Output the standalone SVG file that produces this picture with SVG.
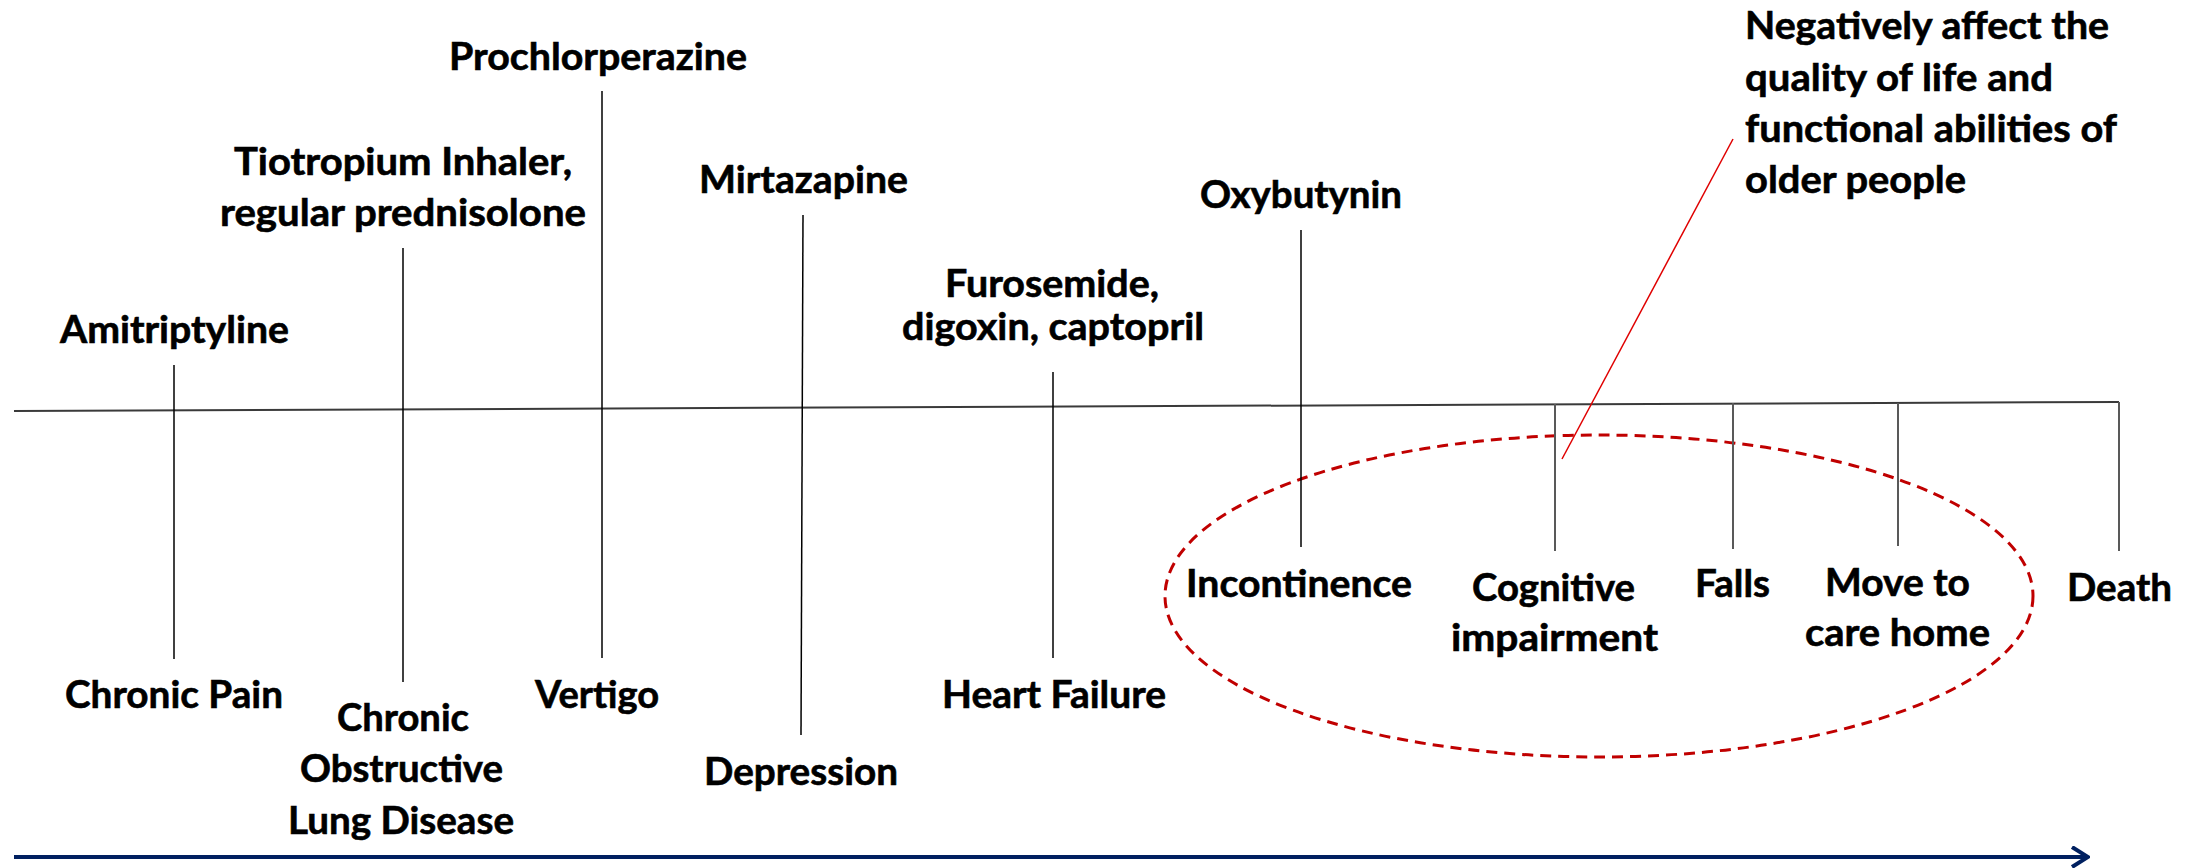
<svg xmlns="http://www.w3.org/2000/svg" width="2200" height="868" viewBox="0 0 2200 868">
  <style>
    text { font-family: Lato, "Open Sans", "Liberation Sans", sans-serif; font-weight: 700; font-size: 38px; fill: #000; stroke: #000; stroke-width: 0.6; }
    .tick { stroke: #000; stroke-width: 1.5; fill: none; }
    .tick-late { stroke: #595959; stroke-width: 2; fill: none; }
    .axis { stroke: #3a3a3a; stroke-width: 2; fill: none; }
    .time { stroke: #002060; stroke-width: 4; fill: none; }
    .halo { stroke: #c00000; stroke-width: 3; stroke-dasharray: 11 7; fill: none; }
    .callout { stroke: #e00000; stroke-width: 1.5; fill: none; }
  </style>
  <defs>
    <marker id="chevron" viewBox="0 0 20 22" refX="18" refY="11" markerWidth="20" markerHeight="22" markerUnits="userSpaceOnUse" orient="auto">
      <path d="M2 1 L18 11 L2 21" fill="none" stroke="#002060" stroke-width="4"/>
    </marker>
  </defs>

  <rect width="2200" height="868" fill="#fff"/>

  <!-- timeline -->
  <line class="axis" x1="14" y1="411" x2="2119" y2="402"/>
  <line class="time" x1="14" y1="857" x2="2088" y2="857" marker-end="url(#chevron)"/>

  <!-- grouping of late outcomes -->
  <ellipse class="halo" cx="1599" cy="596" rx="434" ry="161"/>

  <!-- medicines above the line, conditions below -->
  <g id="amitriptyline">
    <line class="tick" x1="174" y1="365" x2="174" y2="659"/>
    <text x="60" y="343" textLength="229" lengthAdjust="spacingAndGlyphs">Amitriptyline</text>
    <text x="65" y="708" textLength="218" lengthAdjust="spacingAndGlyphs">Chronic Pain</text>
  </g>

  <g id="tiotropium">
    <line class="tick" x1="403" y1="248" x2="403" y2="682"/>
    <text x="234" y="175" textLength="338" lengthAdjust="spacingAndGlyphs">Tiotropium Inhaler,</text>
    <text x="220" y="226" textLength="366" lengthAdjust="spacingAndGlyphs">regular prednisolone</text>
    <text x="337" y="731" textLength="132" lengthAdjust="spacingAndGlyphs">Chronic</text>
    <text x="300" y="782" textLength="203" lengthAdjust="spacingAndGlyphs">Obstructive</text>
    <text x="288" y="834" textLength="226" lengthAdjust="spacingAndGlyphs">Lung Disease</text>
  </g>

  <g id="prochlorperazine">
    <line class="tick" x1="602" y1="91" x2="602" y2="658"/>
    <text x="449" y="70" textLength="298" lengthAdjust="spacingAndGlyphs">Prochlorperazine</text>
    <text x="535" y="708" textLength="124" lengthAdjust="spacingAndGlyphs">Vertigo</text>
  </g>

  <g id="mirtazapine">
    <line class="tick" x1="803" y1="215" x2="801" y2="735"/>
    <text x="699" y="193" textLength="209" lengthAdjust="spacingAndGlyphs">Mirtazapine</text>
    <text x="704" y="785" textLength="194" lengthAdjust="spacingAndGlyphs">Depression</text>
  </g>

  <g id="furosemide">
    <line class="tick" x1="1053" y1="372" x2="1053" y2="658"/>
    <text x="945" y="297" textLength="214" lengthAdjust="spacingAndGlyphs">Furosemide,</text>
    <text x="902" y="340" textLength="302" lengthAdjust="spacingAndGlyphs">digoxin, captopril</text>
    <text x="942" y="708" textLength="224" lengthAdjust="spacingAndGlyphs">Heart Failure</text>
  </g>

  <g id="oxybutynin">
    <line class="tick" x1="1301" y1="230" x2="1301" y2="547"/>
    <text x="1200" y="208" textLength="202" lengthAdjust="spacingAndGlyphs">Oxybutynin</text>
    <text x="1186" y="597" textLength="226" lengthAdjust="spacingAndGlyphs">Incontinence</text>
  </g>

  <g id="cognitive">
    <line class="tick-late" x1="1555" y1="404" x2="1555" y2="551"/>
    <text x="1472" y="601" textLength="163" lengthAdjust="spacingAndGlyphs">Cognitive</text>
    <text x="1451" y="651" textLength="207" lengthAdjust="spacingAndGlyphs">impairment</text>
  </g>

  <g id="falls">
    <line class="tick-late" x1="1733" y1="403" x2="1733" y2="549"/>
    <text x="1695" y="597" textLength="75" lengthAdjust="spacingAndGlyphs">Falls</text>
  </g>

  <g id="care-home">
    <line class="tick-late" x1="1898" y1="403" x2="1898" y2="546"/>
    <text x="1825" y="596" textLength="145" lengthAdjust="spacingAndGlyphs">Move to</text>
    <text x="1805" y="646" textLength="185" lengthAdjust="spacingAndGlyphs">care home</text>
  </g>

  <g id="death">
    <line class="tick-late" x1="2119" y1="402" x2="2119" y2="551"/>
    <text x="2067" y="601" textLength="105" lengthAdjust="spacingAndGlyphs">Death</text>
  </g>

  <g id="impact-note">
    <text x="1745" y="39" textLength="364" lengthAdjust="spacingAndGlyphs">Negatively affect the</text>
    <text x="1745" y="91" textLength="308" lengthAdjust="spacingAndGlyphs">quality of life and</text>
    <text x="1745" y="142" textLength="372" lengthAdjust="spacingAndGlyphs">functional abilities of</text>
    <text x="1745" y="193" textLength="221" lengthAdjust="spacingAndGlyphs">older people</text>
  </g>

  <g id="connectors">
    <line class="callout" x1="1733" y1="139" x2="1562" y2="459"/>
  </g>
</svg>
